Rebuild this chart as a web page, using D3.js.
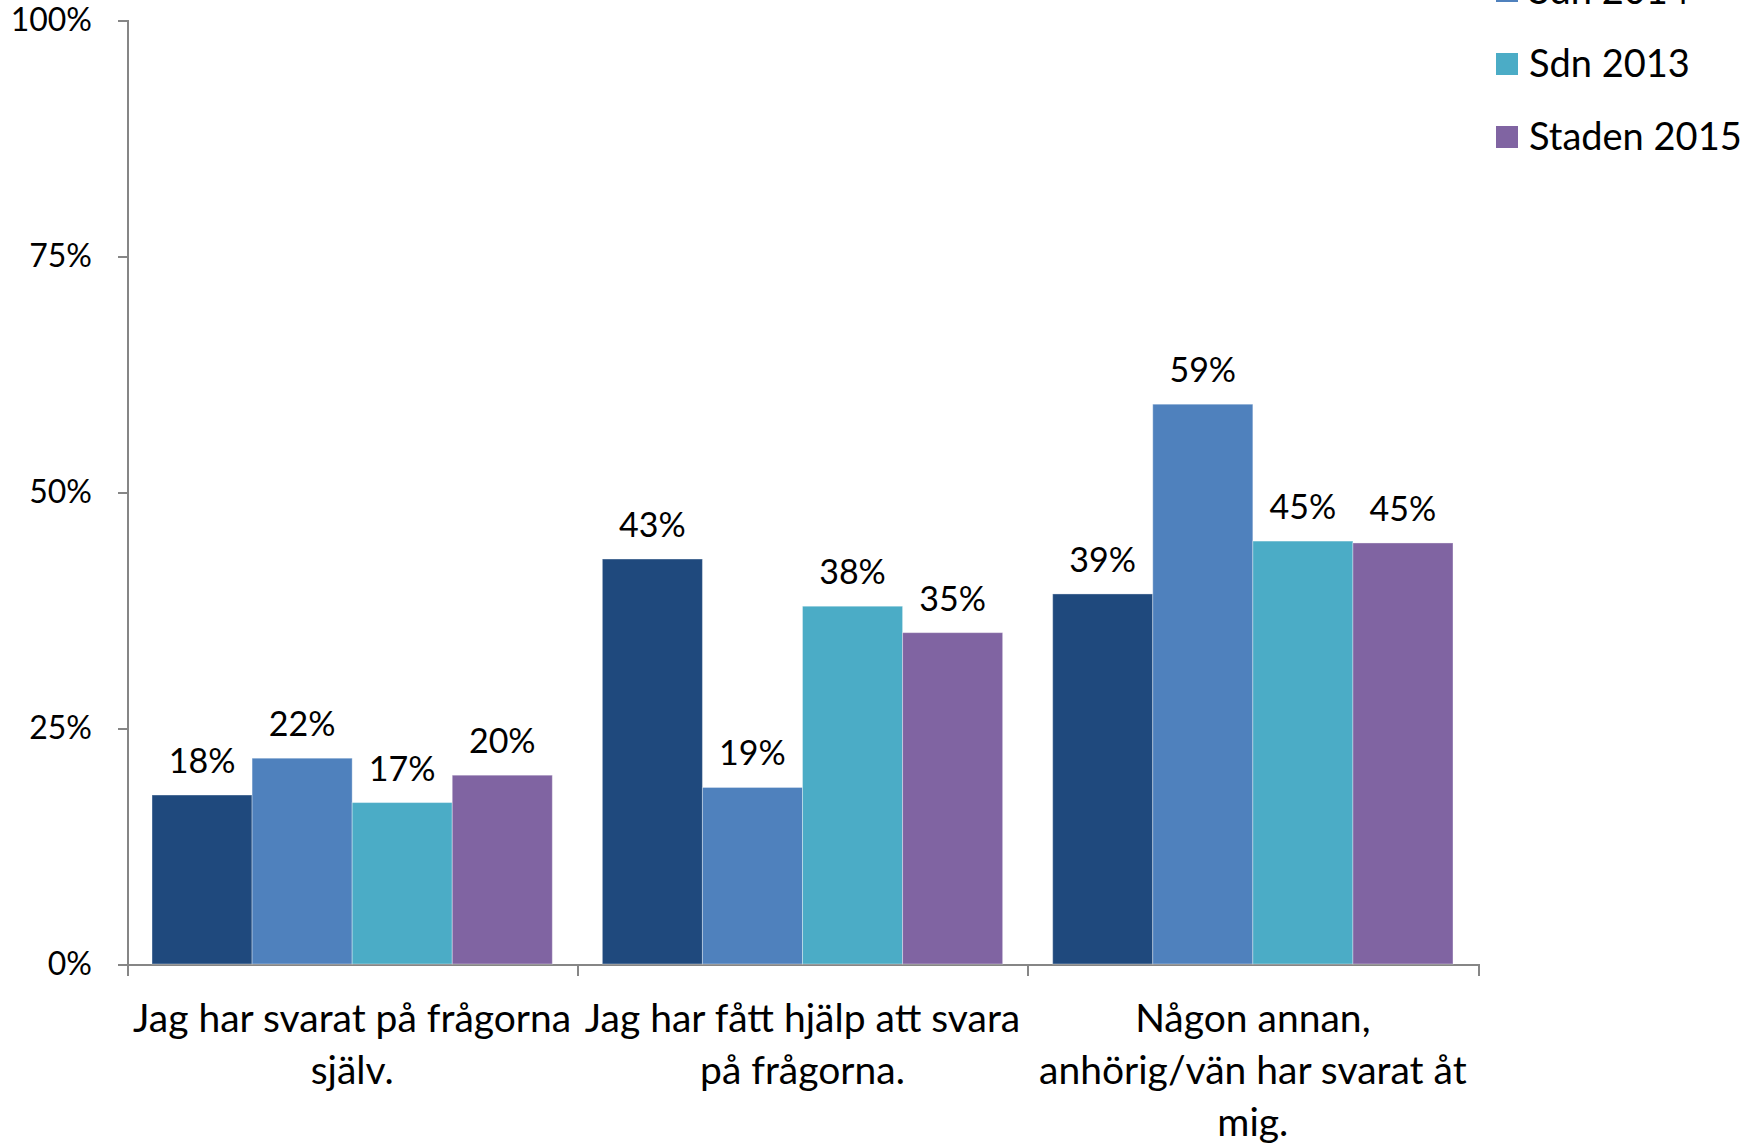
<!DOCTYPE html>
<html lang="sv">
<head>
<meta charset="UTF-8">
<title>Vem har svarat på frågorna</title>
<script src="https://d3js.org/d3.v7.min.js"></script>
<style>
    body { margin: 0; background: #fff; }
    svg { display: block; }
    svg text { font-family: Lato, "Open Sans", sans-serif; fill: #000; }
    .axis path, .axis line { stroke: #868686; stroke-width: 2; shape-rendering: crispEdges; }
    .bar { stroke: rgba(255,255,255,0.35); stroke-width: 1; }
</style>
</head>
<body>
<svg id="chart" width="1762" height="1145"></svg>
<script>
const categories = [
    "Jag har svarat på frågorna själv.",
    "Jag har fått hjälp att svara på frågorna.",
    "Någon annan, anhörig/vän har svarat åt mig."
];
const categoryLines = [
    ["Jag har svarat på frågorna", "själv."],
    ["Jag har fått hjälp att svara", "på frågorna."],
    ["Någon annan,", "anhörig/vän har svarat åt", "mig."]
];
const seriesNames = ["Sdn 2015", "Sdn 2014", "Sdn 2013", "Staden 2015"];
const seriesColors = ["#1f497d", "#4f81bd", "#4bacc6", "#8064a2"];
const sdn2015 = [0.179, 0.429, 0.392];
const sdn2014 = [0.218, 0.187, 0.593];
const sdn2013 = [0.171, 0.379, 0.448];
const staden2015 = [0.200, 0.351, 0.446];
const yTicks = [0, 0.25, 0.5, 0.75, 1];

const seriesValues = [sdn2015, sdn2014, sdn2013, staden2015];

const margin = {left: 127, right: 284, top: 20, bottom: 181};
const width = 1762 - margin.left - margin.right,
      height = 1145 - margin.top - margin.bottom;

const svg = d3.select("#chart");
const g = svg.append("g").attr("transform", `translate(${margin.left},${margin.top})`);

const x0 = d3.scaleBand().domain(categories).range([0, width]).paddingInner(0).paddingOuter(0);
const x1 = d3.scaleBand().domain(seriesNames).range([0, x0.bandwidth()]).paddingInner(0).paddingOuter(0.25);
const y = d3.scaleLinear().domain([0, 1]).range([height, 0]);

// y axis
const yAxis = g.append("g")
    .attr("class", "axis")
    .call(d3.axisLeft(y).tickValues(yTicks).tickFormat(d3.format(".0%")).tickSize(9).tickPadding(26));
yAxis.selectAll("text").style("font-size", "32px");

// x axis with ticks at category boundaries
g.append("g")
    .attr("class", "axis")
    .attr("transform", `translate(0,${height})`)
    .call(d3.axisBottom(d3.scaleLinear().domain([0, categories.length]).range([0, width]))
        .ticks(categories.length).tickSize(12).tickSizeOuter(12).tickFormat(""));

// bars
const groups = g.selectAll(".grp")
    .data(categories)
    .join("g")
    .attr("class", "grp")
    .attr("transform", d => `translate(${x0(d)},0)`);

groups.selectAll("rect")
    .data((c, i) => seriesNames.map((s, j) => ({s, v: seriesValues[j][i], color: seriesColors[j]})))
    .join("rect")
    .attr("class", "bar")
    .attr("x", d => x1(d.s))
    .attr("y", d => y(d.v))
    .attr("width", x1.bandwidth())
    .attr("height", d => height - y(d.v))
    .attr("fill", d => d.color);

groups.selectAll("text.val")
    .data((c, i) => seriesNames.map((s, j) => ({s, v: seriesValues[j][i]})))
    .join("text")
    .attr("class", "val")
    .attr("x", d => x1(d.s) + x1.bandwidth() / 2)
    .attr("y", d => y(d.v) - 22)
    .attr("text-anchor", "middle")
    .style("font-size", "34px")
    .text(d => d3.format(".0%")(d.v));

// category labels
categories.forEach((c, i) => {
    const cx = x0(c) + x0.bandwidth() / 2;
    const t = g.append("text")
        .attr("x", cx)
        .attr("y", height + 68)
        .attr("text-anchor", "middle")
        .style("font-size", "39px");
    categoryLines[i].forEach((line, k) => {
        t.append("tspan")
            .attr("x", cx)
            .attr("dy", k === 0 ? 0 : 52)
            .text(line);
    });
});

// legend
const legend = svg.append("g").attr("transform", "translate(1496,-82)");
seriesNames.forEach((s, i) => {
    const row = legend.append("g").attr("transform", `translate(0,${i * 73})`);
    row.append("rect").attr("x", 0).attr("y", -11).attr("width", 22).attr("height", 22).attr("fill", seriesColors[i]);
    row.append("text").attr("x", 33).attr("y", 0).attr("dy", "0.35em").style("font-size", "38px").text(s);
});
</script>
</body>
</html>
